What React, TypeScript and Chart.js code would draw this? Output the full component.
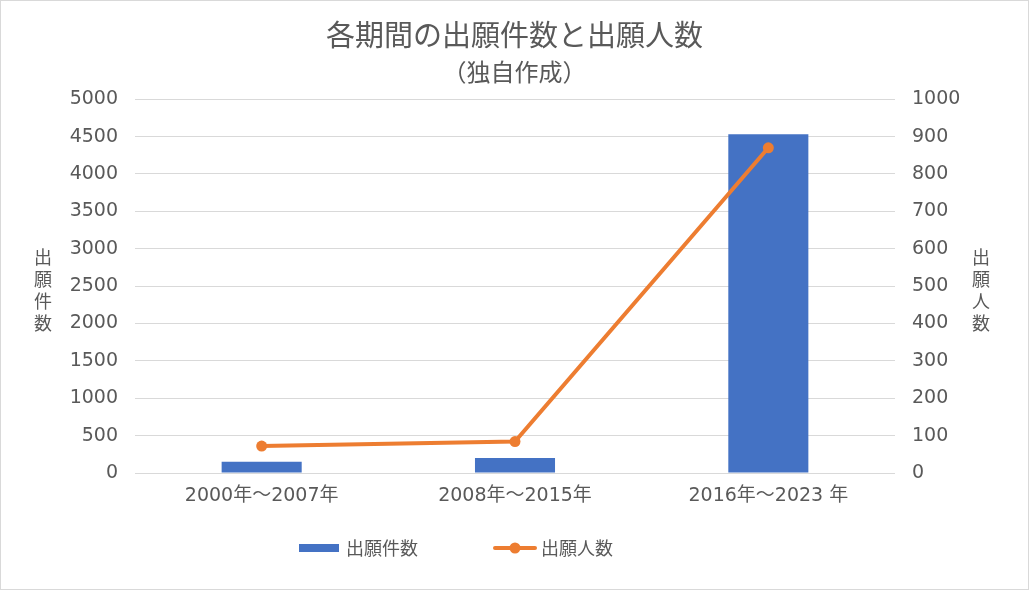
import React, { useEffect, useRef } from 'react';
import { Chart, registerables } from 'chart.js';

Chart.register(...registerables);

// ---- data ----
const categories = ['2000年～2007年', '2008年～2015年', '2016年～2023 年'];
const applicationCounts = [150, 200, 4530];
const applicantCounts = [72, 84, 870];
const leftAxisMax = 5000;
const leftAxisStep = 500;
const rightAxisMax = 1000;
const rightAxisStep = 100;
const chartTitle = '各期間の出願件数と出願人数';
const chartSubtitle = '（独自作成）';
const leftAxisTitle = ['出', '願', '件', '数'];
const rightAxisTitle = ['出', '願', '人', '数'];
const seriesNames = ['出願件数', '出願人数'];

const TEXT = '#595959';
const GRID = '#d9d9d9';
const BLUE = '#4472C4';
const ORANGE = '#ED7D31';
const CJK = '"Noto Sans CJK JP", sans-serif';
const NUM = '"DejaVu Sans", "Noto Sans CJK JP", sans-serif';

const extrasPlugin = {
  id: 'extras',
  afterDraw(chart: any) {
    const ctx = chart.ctx as CanvasRenderingContext2D;
    ctx.save();
    ctx.fillStyle = TEXT;
    ctx.font = `18px ${CJK}`;
    ctx.textAlign = 'center';
    ctx.textBaseline = 'middle';
    const midY = 289;
    const step = 22;
    leftAxisTitle.forEach((ch, i) => {
      ctx.fillText(ch, 42, midY + (i - 1.5) * step);
    });
    rightAxisTitle.forEach((ch, i) => {
      ctx.fillText(ch, 980, midY + (i - 1.5) * step);
    });

    // legend
    const ly = 547;
    ctx.fillStyle = BLUE;
    ctx.fillRect(298, ly - 4, 40, 8);
    ctx.fillStyle = TEXT;
    ctx.textAlign = 'left';
    ctx.fillText(seriesNames[0], 345, ly);

    ctx.strokeStyle = ORANGE;
    ctx.lineWidth = 4;
    ctx.lineCap = 'round';
    ctx.beginPath();
    ctx.moveTo(494, ly);
    ctx.lineTo(534, ly);
    ctx.stroke();
    ctx.fillStyle = ORANGE;
    ctx.beginPath();
    ctx.arc(514, ly, 5.5, 0, Math.PI * 2);
    ctx.fill();
    ctx.fillStyle = TEXT;
    ctx.fillText(seriesNames[1], 540, ly);
    ctx.restore();
  },
};

const plain = (v: any) => String(v);

export default function App() {
  const ref = useRef<HTMLCanvasElement | null>(null);

  useEffect(() => {
    if (!ref.current) return;
    const chart = new Chart(ref.current, {
      type: 'bar',
      data: {
        labels: categories,
        datasets: [
          {
            type: 'line',
            label: seriesNames[1],
            data: applicantCounts,
            yAxisID: 'y1',
            borderColor: ORANGE,
            backgroundColor: ORANGE,
            borderWidth: 4,
            pointRadius: 5.5,
            pointBorderWidth: 0,
            pointBackgroundColor: ORANGE,
            tension: 0,
            order: 0,
          } as any,
          {
            type: 'bar',
            label: seriesNames[0],
            data: applicationCounts,
            yAxisID: 'y',
            backgroundColor: BLUE,
            borderWidth: 0,
            barPercentage: 0.316,
            categoryPercentage: 1,
            order: 1,
          } as any,
        ],
      },
      options: {
        responsive: true,
        maintainAspectRatio: false,
        animation: false,
        layout: { padding: { top: 0, left: 0, right: 0, bottom: 61 } },
        plugins: {
          legend: { display: false },
          tooltip: { enabled: false },
          title: {
            display: true,
            text: chartTitle,
            color: TEXT,
            font: { family: CJK, size: 29, weight: 'normal', lineHeight: 1.2 },
            padding: { top: 17, bottom: 6 },
          },
          subtitle: {
            display: true,
            text: chartSubtitle,
            color: TEXT,
            font: { family: CJK, size: 24, weight: 'normal', lineHeight: 1.1 },
            padding: { top: 0, bottom: 14 },
          },
        },
        scales: {
          x: {
            grid: { display: false, drawTicks: false },
            border: { display: false },
            ticks: { color: TEXT, font: { family: NUM, size: 19 }, padding: 12 },
            afterFit(s: any) {
              s.height = 55;
              s.paddingLeft = 0;
              s.paddingRight = 0;
            },
          },
          y: {
            position: 'left',
            min: 0,
            max: leftAxisMax,
            ticks: { stepSize: leftAxisStep, color: TEXT, font: { family: NUM, size: 19 }, padding: 17, callback: plain },
            grid: { color: GRID, lineWidth: 1, drawTicks: false },
            border: { display: false },
            afterFit(s: any) {
              s.width = 134;
              s.paddingTop = 0;
              s.paddingBottom = 0;
            },
          },
          y1: {
            position: 'right',
            min: 0,
            max: rightAxisMax,
            ticks: { stepSize: rightAxisStep, color: TEXT, font: { family: NUM, size: 19 }, padding: 17, callback: plain },
            grid: { drawOnChartArea: false, drawTicks: false },
            border: { display: false },
            afterFit(s: any) {
              s.width = 133;
              s.paddingTop = 0;
              s.paddingBottom = 0;
            },
          },
        },
      },
      plugins: [extrasPlugin],
    });
    return () => chart.destroy();
  }, []);

  return (
    <div
      style={{
        position: 'absolute',
        left: 0,
        top: 0,
        width: 1029,
        height: 590,
        boxSizing: 'border-box',
        border: '1px solid #d9d9d9',
        background: '#ffffff',
      }}
    >
      <div style={{ position: 'relative', width: 1027, height: 588 }}>
        <canvas ref={ref} />
      </div>
    </div>
  );
}
